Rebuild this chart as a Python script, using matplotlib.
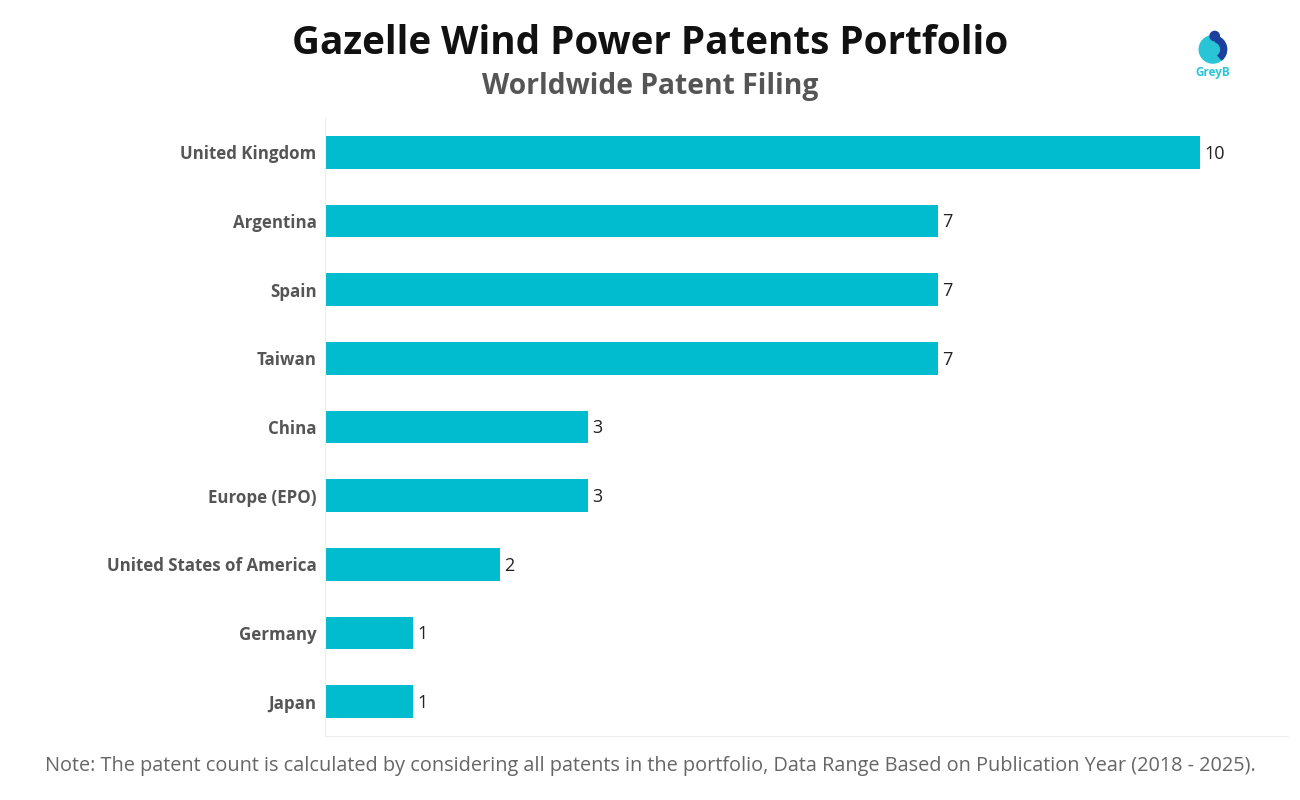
import matplotlib.pyplot as plt
from matplotlib.patches import Circle, Wedge

countries = ["United Kingdom", "Argentina", "Spain", "Taiwan", "China",
             "Europe (EPO)", "United States of America", "Germany", "Japan"]
counts = [10, 7, 7, 7, 3, 3, 2, 1, 1]

bar_color = "#00BCCE"

fig = plt.figure(figsize=(13, 8), dpi=100)
ax = fig.add_axes([0.25, 0.08, 0.7408, 0.7725])

y = list(range(len(countries)))
ax.barh(y, counts, height=0.48, color=bar_color)
ax.set_ylim(len(countries) - 0.5, -0.5)
ax.set_xlim(0, 11)

for yi, v in zip(y, counts):
    ax.text(v + 0.05, yi + 0.02, str(v), va="center", ha="left",
            fontsize=13, color="#222222", family="Open Sans")

ax.set_yticks(y)
ax.set_yticklabels(countries, fontsize=12.2, fontweight="bold",
                   color="#555555", family="Open Sans")
ax.tick_params(axis="y", length=0, pad=6)
ax.set_xticks([])
for s in ["top", "right"]:
    ax.spines[s].set_visible(False)
ax.spines["left"].set_color("#eeeeee")
ax.spines["bottom"].set_color("#eeeeee")

fig.text(0.5, 0.945, "Gazelle Wind Power Patents Portfolio", ha="center",
         va="center", fontsize=27.8, fontweight="bold", color="#111111",
         family="Open Sans")
fig.text(0.5, 0.892, "Worldwide Patent Filing", ha="center", va="center",
         fontsize=20.3, fontweight="bold", color="#555555", family="Open Sans")
fig.text(0.5, 0.042,
         "Note: The patent count is calculated by considering all patents in the portfolio, "
         "Data Range Based on Publication Year (2018 - 2025).",
         ha="center", va="center", fontsize=14.3, color="#666666",
         family="Open Sans")

# GreyB logo
lax = fig.add_axes([0.918, 0.918, 0.03, 0.045])
lax.set_xlim(0, 1)
lax.set_ylim(0, 1)
lax.set_aspect("equal")
lax.axis("off")
lax.add_patch(Circle((0.5, 0.45), 0.38, color="#29C5D6"))
lax.add_patch(Wedge((0.5, 0.45), 0.38, -50, 70, width=0.16, color="#1E3F9E"))
lax.add_patch(Circle((0.55, 0.82), 0.13, color="#1E3F9E"))
fig.text(0.9325, 0.909, "GreyB", ha="center", va="center", fontsize=8.5,
         fontweight="bold", color="#29C5D6", family="Open Sans")

fig.savefig("out.png", dpi=100)
